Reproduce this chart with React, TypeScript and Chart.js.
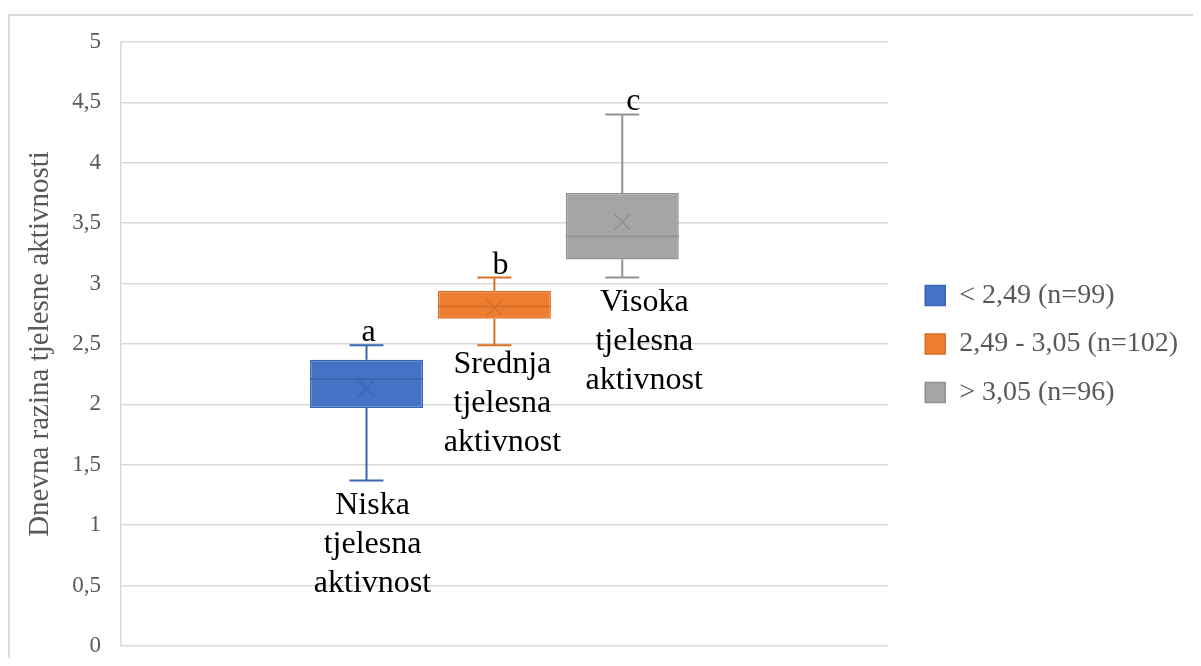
import React, { useEffect, useRef } from 'react';
import { Chart, registerables } from 'chart.js';

Chart.register(...registerables);

// ---- data ----
const seriesNames = ['< 2,49 (n=99)', '2,49 - 3,05 (n=102)', '> 3,05 (n=96)'];
const groupPositions = [1, 2, 3];
const whiskerMin = [1.37, 2.49, 3.05];
const q1 = [1.97, 2.71, 3.2];
const median = [2.21, 2.81, 3.39];
const q3 = [2.37, 2.94, 3.75];
const whiskerMax = [2.49, 3.05, 4.4];
const mean = [2.13, 2.8, 3.51];
const letters = ['a', 'b', 'c'];
const groupLabels = [
  ['Niska', 'tjelesna', 'aktivnost'],
  ['Srednja', 'tjelesna', 'aktivnost'],
  ['Visoka', 'tjelesna', 'aktivnost'],
];
const yTickLabels = ['0', '0,5', '1', '1,5', '2', '2,5', '3', '3,5', '4', '4,5', '5'];
const yTitle = 'Dnevna razina tjelesne aktivnosti';

// ---- styles ----
const fillColors = ['#4472C4', '#ED7D31', '#A5A5A5'];
const lineColors = ['#3A66B6', '#DB6F26', '#919191'];
const FONT = "'Liberation Serif', 'Times New Roman', serif";
const letterDx = [2, 6, 11];
const labelDx = [6, 8, 22];
const labelDy = [25, 19, 25];
const labelLineHeight = 39;

const boxPlugin = {
  id: 'boxWhisker',
  afterDatasetsDraw(chart: any) {
    const ctx = chart.ctx;
    const ys = chart.scales.y;
    chart.data.datasets.forEach((_ds: any, i: number) => {
      const meta = chart.getDatasetMeta(i);
      const bar = meta.data[0];
      if (!bar) return;
      const { x, width } = bar.getProps(['x', 'width'], true);
      const half = width / 2;
      const cap = width * 0.15;
      const pMin = ys.getPixelForValue(whiskerMin[i]);
      const pQ1 = ys.getPixelForValue(q1[i]);
      const pMed = ys.getPixelForValue(median[i]);
      const pQ3 = ys.getPixelForValue(q3[i]);
      const pMax = ys.getPixelForValue(whiskerMax[i]);
      const pMean = ys.getPixelForValue(mean[i]);
      ctx.save();
      ctx.strokeStyle = lineColors[i];
      ctx.lineWidth = 2;
      ctx.beginPath();
      ctx.moveTo(x, pQ3);
      ctx.lineTo(x, pMax);
      ctx.moveTo(x - cap, pMax);
      ctx.lineTo(x + cap, pMax);
      ctx.moveTo(x, pQ1);
      ctx.lineTo(x, pMin);
      ctx.moveTo(x - cap, pMin);
      ctx.lineTo(x + cap, pMin);
      ctx.moveTo(x - half, pMed);
      ctx.lineTo(x + half, pMed);
      ctx.stroke();
      const m = 8;
      ctx.lineWidth = 1.5;
      ctx.beginPath();
      ctx.moveTo(x - m, pMean - m);
      ctx.lineTo(x + m, pMean + m);
      ctx.moveTo(x + m, pMean - m);
      ctx.lineTo(x - m, pMean + m);
      ctx.stroke();
      ctx.restore();
    });
  },
  afterDraw(chart: any) {
    const ctx = chart.ctx;
    const ys = chart.scales.y;
    chart.data.datasets.forEach((_ds: any, i: number) => {
      const bar = chart.getDatasetMeta(i).data[0];
      if (!bar) return;
      const { x } = bar.getProps(['x'], true);
      ctx.save();
      ctx.fillStyle = '#000000';
      ctx.font = `32px ${FONT}`;
      ctx.textAlign = 'center';
      ctx.textBaseline = 'alphabetic';
      ctx.fillText(letters[i], x + letterDx[i], ys.getPixelForValue(whiskerMax[i]) - 4);
      ctx.textBaseline = 'middle';
      const y0 = ys.getPixelForValue(whiskerMin[i]) + labelDy[i];
      groupLabels[i].forEach((line, k) => {
        ctx.fillText(line, x + labelDx[i], y0 + k * labelLineHeight);
      });
      ctx.restore();
    });
  },
};

export default function App() {
  const ref = useRef<HTMLCanvasElement>(null);
  useEffect(() => {
    if (!ref.current) return;
    Chart.defaults.font.family = FONT;
    const chart = new Chart(ref.current, {
      type: 'bar',
      data: {
        datasets: seriesNames.map((name, i) => ({
          label: name,
          data: [{ x: groupPositions[i], y: [q1[i], q3[i]] }],
          backgroundColor: fillColors[i],
          borderColor: lineColors[i],
          borderWidth: 1.5,
          borderSkipped: false,
          grouped: false,
          barPercentage: 0.884,
          categoryPercentage: 1,
          xAxisID: 'x',
          yAxisID: 'y',
        })),
      } as any,
      options: {
        animation: false,
        responsive: false,
        layout: { padding: { left: 9, right: 5, top: 26, bottom: 30 } },
        plugins: {
          legend: {
            position: 'right',
            maxWidth: 340,
            labels: {
              boxWidth: 20,
              boxHeight: 20,
              padding: 20.5,
              color: '#595959',
              font: { family: FONT, size: 28 },
            },
          },
          tooltip: { enabled: false },
        },
        scales: {
          x: {
            type: 'linear',
            min: -0.92,
            max: 5.08,
            offset: false,
            grid: { offset: false },
            display: false,
            afterBuildTicks: (s: any) => {
              s.ticks = groupPositions.map((v) => ({ value: v }));
            },
          },
          y: {
            min: 0,
            max: 5,
            ticks: {
              stepSize: 0.5,
              padding: 20,
              color: '#595959',
              font: { family: FONT, size: 23 },
              callback: (v: any) => yTickLabels[Math.round(Number(v) * 2)],
            },
            grid: { color: '#d9d9d9', lineWidth: 1.5, drawTicks: false },
            border: { display: true, color: '#d9d9d9', width: 1.5 },
            title: {
              display: true,
              text: yTitle,
              color: '#595959',
              font: { family: FONT, size: 29 },
              padding: { top: 4, bottom: 4 },
            },
            afterFit: (s: any) => {
              s.width = 102;
              s.paddingTop = 0;
              s.paddingBottom = 0;
            },
          },
          yR: {
            position: 'right',
            min: 0,
            max: 1,
            grid: { display: false },
            ticks: { display: false },
            border: { display: false },
            afterFit: (s: any) => {
              s.width = 16.5;
            },
          },
        },
      } as any,
      plugins: [boxPlugin],
    });
    return () => chart.destroy();
  }, []);
  return (
    <div style={{ paddingTop: 6, height: 650, overflow: 'hidden', boxSizing: 'border-box' }}>
      <div style={{ borderTop: '2px solid #dcdcdc', borderLeft: '2px solid #dcdcdc', width: 1183 }}>
        <canvas ref={ref} width={1183} height={660} style={{ display: 'block', width: 1183, height: 660 }} />
      </div>
    </div>
  );
}
